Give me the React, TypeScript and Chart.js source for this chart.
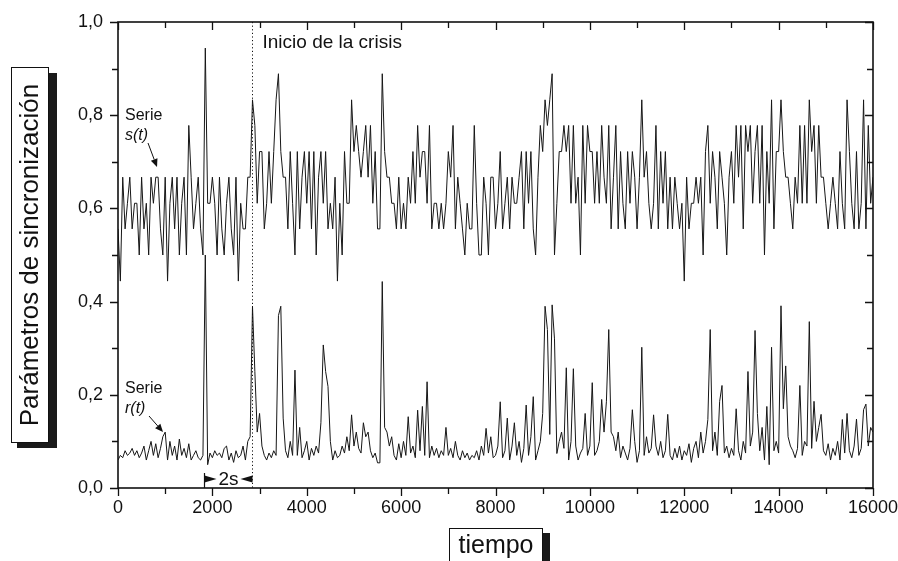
import React, { useEffect, useRef } from "react";
import { Chart, registerables } from "chart.js";

Chart.register(...registerables);

// sampling step of both series (x axis units)
const STEP = 50;
const X_MIN = 0;
const X_MAX = 16000;
const X_TICK_STEP = 2000;
const Y_MIN = 0;
const Y_MAX = 1;
const Y_TICK_STEP = 0.2;
const CRISIS_X = 2850;
const TWO_S_START = 1830;

const X_TITLE = "tiempo";
const Y_TITLE = "Parámetros de sincronización";
const CRISIS_LABEL = "Inicio de la crisis";
const SERIES_WORD = "Serie";
const S_NAME = "s(t)";
const R_NAME = "r(t)";
const TWO_S_LABEL = "2s";

// Serie s(t)
const S_VALUES = [
  0.556,0.444,0.667,0.556,0.611,0.667,0.556,0.611,0.611,0.5,
  0.667,0.556,0.611,0.5,0.667,0.611,0.667,0.667,0.556,0.5,
  0.667,0.444,0.611,0.667,0.556,0.667,0.5,0.611,0.667,0.5,
  0.778,0.667,0.556,0.611,0.667,0.556,0.5,0.944,0.611,0.611,
  0.667,0.611,0.5,0.667,0.556,0.5,0.611,0.667,0.556,0.5,
  0.667,0.444,0.611,0.556,0.556,0.667,0.667,0.833,0.778,0.611,
  0.722,0.722,0.556,0.611,0.722,0.611,0.722,0.833,0.889,0.722,
  0.667,0.667,0.556,0.722,0.611,0.5,0.722,0.556,0.667,0.722,
  0.611,0.722,0.556,0.722,0.5,0.667,0.722,0.611,0.722,0.556,
  0.611,0.556,0.667,0.444,0.611,0.5,0.722,0.611,0.611,0.833,
  0.722,0.778,0.722,0.667,0.722,0.778,0.667,0.778,0.611,0.722,
  0.556,0.556,0.889,0.722,0.667,0.667,0.611,0.611,0.556,0.667,
  0.556,0.611,0.556,0.667,0.611,0.722,0.611,0.778,0.667,0.722,
  0.722,0.611,0.778,0.556,0.611,0.611,0.556,0.611,0.556,0.611,
  0.722,0.667,0.778,0.556,0.667,0.611,0.556,0.5,0.611,0.556,
  0.556,0.778,0.611,0.5,0.5,0.667,0.611,0.5,0.667,0.667,
  0.556,0.611,0.722,0.556,0.611,0.667,0.556,0.667,0.611,0.611,
  0.667,0.722,0.556,0.722,0.611,0.722,0.556,0.5,0.667,0.778,
  0.722,0.833,0.778,0.833,0.889,0.5,0.611,0.722,0.722,0.778,
  0.722,0.778,0.611,0.778,0.611,0.667,0.5,0.778,0.611,0.778,
  0.722,0.722,0.611,0.722,0.611,0.778,0.667,0.611,0.778,0.556,
  0.667,0.778,0.556,0.722,0.611,0.556,0.722,0.611,0.722,0.667,
  0.556,0.667,0.833,0.667,0.722,0.611,0.556,0.611,0.778,0.556,
  0.722,0.611,0.722,0.556,0.667,0.556,0.667,0.611,0.556,0.611,
  0.444,0.667,0.556,0.611,0.611,0.667,0.611,0.667,0.5,0.722,
  0.778,0.611,0.722,0.667,0.556,0.722,0.667,0.611,0.5,0.667,
  0.722,0.611,0.778,0.667,0.778,0.556,0.778,0.722,0.778,0.611,
  0.722,0.778,0.611,0.778,0.5,0.722,0.611,0.833,0.556,0.722,
  0.722,0.833,0.722,0.667,0.667,0.611,0.556,0.667,0.611,0.778,
  0.611,0.778,0.611,0.833,0.722,0.778,0.611,0.778,0.667,0.667,
  0.611,0.556,0.611,0.667,0.611,0.556,0.722,0.611,0.556,0.833,
  0.722,0.611,0.556,0.722,0.556,0.611,0.833,0.556,0.778,0.611,0.667,
];

// Serie r(t)
const R_VALUES = [
  0.06,0.07,0.065,0.08,0.07,0.075,0.085,0.07,0.08,0.065,
  0.075,0.09,0.06,0.08,0.1,0.07,0.095,0.065,0.085,0.11,
  0.12,0.06,0.1,0.07,0.09,0.06,0.105,0.07,0.085,0.065,
  0.095,0.06,0.07,0.08,0.065,0.06,0.07,0.5,0.05,0.075,
  0.065,0.08,0.07,0.075,0.065,0.085,0.09,0.06,0.075,0.055,
  0.08,0.065,0.07,0.09,0.06,0.1,0.11,0.39,0.25,0.12,
  0.16,0.09,0.07,0.06,0.075,0.065,0.08,0.07,0.37,0.39,
  0.15,0.08,0.065,0.1,0.07,0.253,0.07,0.13,0.065,0.08,
  0.1,0.06,0.085,0.07,0.09,0.075,0.14,0.307,0.25,0.218,
  0.1,0.06,0.08,0.065,0.07,0.09,0.075,0.11,0.08,0.157,
  0.09,0.12,0.085,0.075,0.14,0.11,0.12,0.08,0.065,0.075,
  0.054,0.054,0.443,0.13,0.12,0.09,0.11,0.07,0.06,0.095,
  0.065,0.1,0.07,0.153,0.075,0.09,0.065,0.167,0.08,0.175,
  0.07,0.228,0.065,0.09,0.07,0.085,0.065,0.08,0.07,0.13,
  0.07,0.085,0.065,0.1,0.07,0.06,0.08,0.065,0.075,0.06,
  0.07,0.065,0.08,0.06,0.09,0.07,0.128,0.075,0.11,0.065,
  0.07,0.09,0.185,0.065,0.08,0.15,0.06,0.09,0.14,0.07,
  0.1,0.055,0.085,0.178,0.07,0.11,0.196,0.06,0.08,0.1,
  0.16,0.39,0.34,0.115,0.393,0.32,0.074,0.1,0.12,0.085,
  0.258,0.06,0.1,0.256,0.09,0.06,0.075,0.085,0.16,0.07,
  0.09,0.226,0.07,0.08,0.1,0.19,0.12,0.185,0.34,0.12,
  0.11,0.08,0.12,0.065,0.09,0.075,0.06,0.085,0.168,0.1,
  0.055,0.08,0.302,0.07,0.11,0.075,0.085,0.157,0.09,0.07,
  0.1,0.065,0.08,0.158,0.07,0.06,0.085,0.065,0.09,0.06,
  0.08,0.07,0.095,0.055,0.085,0.1,0.065,0.12,0.075,0.1,
  0.147,0.34,0.08,0.12,0.07,0.186,0.22,0.075,0.09,0.065,
  0.085,0.07,0.17,0.08,0.06,0.1,0.075,0.25,0.09,0.12,
  0.338,0.16,0.08,0.13,0.06,0.175,0.05,0.302,0.08,0.1,
  0.075,0.391,0.17,0.262,0.11,0.09,0.08,0.065,0.085,0.22,
  0.07,0.1,0.09,0.357,0.085,0.186,0.1,0.13,0.158,0.08,
  0.07,0.095,0.06,0.085,0.07,0.1,0.06,0.147,0.075,0.16,
  0.08,0.065,0.09,0.148,0.07,0.085,0.168,0.18,0.09,0.13,0.12,
];

const FONT = "'Liberation Sans', Arial, Helvetica, sans-serif";

const toPoints = (vals: number[]) => vals.map((v, i) => ({ x: i * STEP, y: v }));

function arrow(ctx: CanvasRenderingContext2D, x1: number, y1: number, x2: number, y2: number) {
  ctx.save();
  ctx.strokeStyle = "#111";
  ctx.fillStyle = "#111";
  ctx.lineWidth = 1;
  const ang = Math.atan2(y2 - y1, x2 - x1);
  const hl = 8;
  const hw = 3.5;
  const bx = x2 - hl * Math.cos(ang);
  const by = y2 - hl * Math.sin(ang);
  ctx.beginPath();
  ctx.moveTo(x1, y1);
  ctx.lineTo(bx, by);
  ctx.stroke();
  ctx.beginPath();
  ctx.moveTo(x2, y2);
  ctx.lineTo(bx + hw * Math.sin(ang), by - hw * Math.cos(ang));
  ctx.lineTo(bx - hw * Math.sin(ang), by + hw * Math.cos(ang));
  ctx.closePath();
  ctx.fill();
  ctx.restore();
}

const decorPlugin = {
  id: "decor",
  afterDraw(chart: any) {
    const ctx: CanvasRenderingContext2D = chart.ctx;
    const { left, right, top, bottom } = chart.chartArea;
    const xs = chart.scales.x;
    const ys = chart.scales.y;
    ctx.save();
    ctx.strokeStyle = "#111";
    ctx.fillStyle = "#111";

    // frame
    ctx.lineWidth = 1.6;
    ctx.strokeRect(left, top, right - left, bottom - top);

    // ticks
    ctx.lineWidth = 1.3;
    ctx.beginPath();
    for (let v = X_MIN; v <= X_MAX; v += X_TICK_STEP / 2) {
      const px = Math.round(xs.getPixelForValue(v)) + 0.5;
      const major = v % X_TICK_STEP === 0;
      const len = major ? 8 : 6;
      ctx.moveTo(px, bottom);
      ctx.lineTo(px, bottom + len);
      ctx.moveTo(px, top);
      ctx.lineTo(px, top + len);
    }
    for (let k = 0; k <= 10; k++) {
      const v = k / 10;
      const py = Math.round(ys.getPixelForValue(v)) + 0.5;
      const major = k % 2 === 0;
      const len = major ? 8 : 6;
      ctx.moveTo(left, py);
      ctx.lineTo(left - len, py);
      ctx.moveTo(right, py);
      ctx.lineTo(right - len, py);
    }
    ctx.stroke();

    // dotted crisis line
    const cx = Math.round(xs.getPixelForValue(CRISIS_X)) + 0.5;
    ctx.save();
    ctx.lineWidth = 1;
    ctx.setLineDash([1.2, 2.4]);
    ctx.beginPath();
    ctx.moveTo(cx, top);
    ctx.lineTo(cx, bottom);
    ctx.stroke();
    ctx.restore();

    // crisis label
    ctx.font = `19px ${FONT}`;
    ctx.textBaseline = "middle";
    ctx.textAlign = "left";
    ctx.fillText(CRISIS_LABEL, cx + 10, top + 21);

    // 2s marker
    const sx = Math.round(xs.getPixelForValue(TWO_S_START)) + 0.5;
    const my = bottom - 9;
    ctx.lineWidth = 1.2;
    ctx.beginPath();
    ctx.moveTo(sx, my - 6);
    ctx.lineTo(sx, bottom);
    ctx.stroke();
    ctx.beginPath();
    ctx.moveTo(sx, my - 3.5);
    ctx.lineTo(sx + 12, my);
    ctx.lineTo(sx, my + 3.5);
    ctx.closePath();
    ctx.fill();
    ctx.beginPath();
    ctx.moveTo(cx, my - 3.5);
    ctx.lineTo(cx - 12, my);
    ctx.lineTo(cx, my + 3.5);
    ctx.closePath();
    ctx.fill();
    ctx.font = `19px ${FONT}`;
    ctx.textAlign = "center";
    ctx.fillText(TWO_S_LABEL, (sx + cx) / 2, my + 1);

    // series annotations
    ctx.textAlign = "left";
    ctx.font = `16px ${FONT}`;
    ctx.fillText(SERIES_WORD, left + 7, 116);
    ctx.font = `italic 16px ${FONT}`;
    ctx.fillText(S_NAME, left + 7, 136);
    arrow(ctx, 148, 143, 157, 167);
    ctx.font = `16px ${FONT}`;
    ctx.fillText(SERIES_WORD, left + 7, 389);
    ctx.font = `italic 16px ${FONT}`;
    ctx.fillText(R_NAME, left + 7, 409);
    arrow(ctx, 149, 416, 163, 432);

    // y title box with shadow
    ctx.fillStyle = "#1a1a1a";
    ctx.fillRect(49, 73, 8, 375);
    ctx.fillRect(17, 442, 40, 6);
    ctx.fillStyle = "#fff";
    ctx.fillRect(11, 67, 38, 375);
    ctx.strokeStyle = "#111";
    ctx.lineWidth = 1;
    ctx.strokeRect(11.5, 67.5, 37, 375);
    ctx.save();
    ctx.translate(31, 255);
    ctx.rotate(-Math.PI / 2);
    ctx.fillStyle = "#111";
    ctx.font = `26px ${FONT}`;
    ctx.textAlign = "center";
    ctx.textBaseline = "middle";
    ctx.fillText(Y_TITLE, 0, 0);
    ctx.restore();

    // x title box with shadow
    ctx.fillStyle = "#1a1a1a";
    ctx.fillRect(543, 533, 7, 30);
    ctx.fillStyle = "#fff";
    ctx.fillRect(449, 528, 94, 40);
    ctx.strokeRect(449.5, 528.5, 93, 40);
    ctx.fillStyle = "#111";
    ctx.font = `25px ${FONT}`;
    ctx.textAlign = "center";
    ctx.textBaseline = "middle";
    ctx.fillText(X_TITLE, 496, 546);

    ctx.restore();
  },
};

export default function App() {
  const ref = useRef<HTMLCanvasElement | null>(null);
  useEffect(() => {
    document.body.style.margin = "0";
    const canvas = ref.current;
    if (!canvas) return;
    const chart = new Chart(canvas, {
      type: "line",
      data: {
        datasets: [
          {
            label: S_NAME,
            data: toPoints(S_VALUES),
            borderColor: "#161616",
            borderWidth: 1,
            pointRadius: 0,
            tension: 0,
            fill: false,
          },
          {
            label: R_NAME,
            data: toPoints(R_VALUES),
            borderColor: "#161616",
            borderWidth: 1,
            pointRadius: 0,
            tension: 0,
            fill: false,
          },
        ],
      },
      options: {
        animation: false,
        responsive: false,
        maintainAspectRatio: false,
        layout: { padding: { left: 0, right: 25, top: 22, bottom: 0 } },
        plugins: { legend: { display: false }, tooltip: { enabled: false } },
        scales: {
          x: {
            type: "linear",
            min: X_MIN,
            max: X_MAX,
            grid: { display: false, drawTicks: false },
            border: { display: false },
            ticks: {
              stepSize: X_TICK_STEP,
              padding: 9,
              color: "#111",
              font: { family: FONT, size: 18 },
              maxRotation: 0,
              autoSkip: false,
              callback: (v: any) => String(v),
            },
            afterFit: (s: any) => {
              s.height = 73;
              s.paddingLeft = 0;
              s.paddingRight = 0;
            },
          },
          y: {
            type: "linear",
            min: Y_MIN,
            max: Y_MAX,
            grid: { display: false, drawTicks: false },
            border: { display: false },
            ticks: {
              stepSize: Y_TICK_STEP,
              padding: 15,
              color: "#111",
              font: { family: FONT, size: 18 },
              callback: (v: any) => Number(v).toFixed(1).replace(".", ","),
            },
            afterFit: (s: any) => {
              s.width = 118;
              s.paddingTop = 0;
              s.paddingBottom = 0;
            },
          },
        },
      },
      plugins: [decorPlugin],
    });
    return () => chart.destroy();
  }, []);
  return (
    <div style={{ position: "fixed", left: 0, top: 0, width: 898, height: 561, background: "#fff" }}>
      <canvas ref={ref} width={898} height={561} style={{ display: "block" }} />
    </div>
  );
}
